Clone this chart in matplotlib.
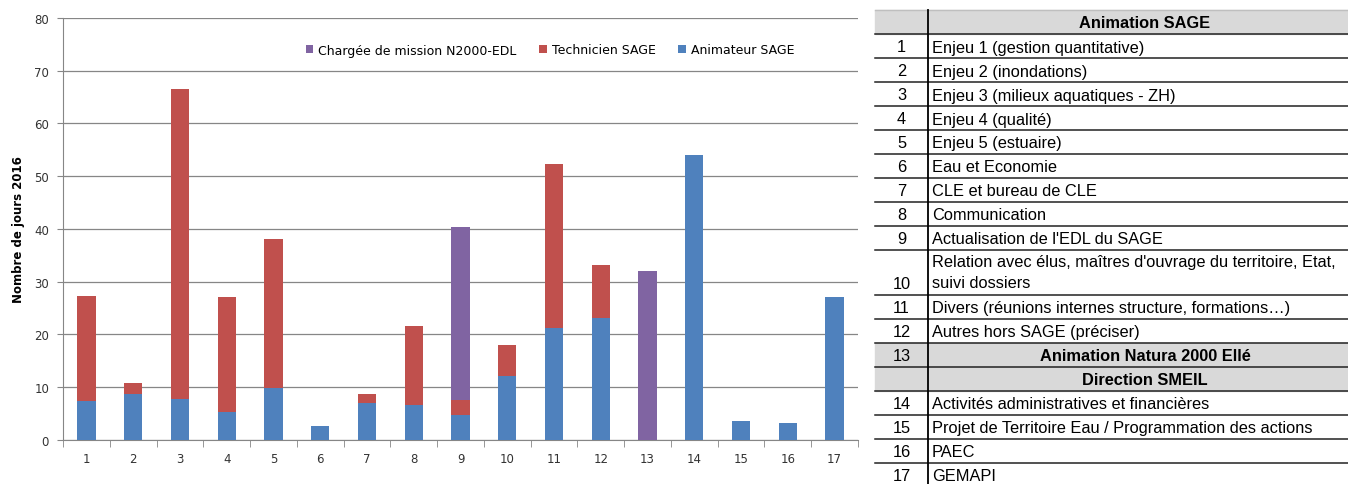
import matplotlib.pyplot as plt
import numpy as np

categories = [str(i) for i in range(1, 18)]
animateur = [7.3, 8.7, 7.7, 5.2, 9.9, 2.6, 6.9, 6.5, 4.7, 12.0, 21.2, 23.0, 0, 54.0, 3.6, 3.2, 27.1]
technicien = [20.0, 2.1, 58.9, 21.9, 28.1, 0, 1.8, 15.1, 2.8, 5.9, 31.1, 10.1, 0, 0, 0, 0, 0]
chargee = [0, 0, 0, 0, 0, 0, 0, 0, 32.9, 0, 0, 0, 32.0, 0, 0, 0, 0]

table_nums = ['', '1', '2', '3', '4', '5', '6', '7', '8', '9', '10', '11', '12', '13', '', '14', '15', '16', '17']
table_labels = ['Animation SAGE',
                'Enjeu 1 (gestion quantitative)',
                'Enjeu 2 (inondations)',
                'Enjeu 3 (milieux aquatiques - ZH)',
                'Enjeu 4 (qualité)',
                'Enjeu 5 (estuaire)',
                'Eau et Economie',
                'CLE et bureau de CLE',
                'Communication',
                "Actualisation de l'EDL du SAGE",
                "Relation avec élus, maîtres d'ouvrage du territoire, Etat,\nsuivi dossiers",
                'Divers (réunions internes structure, formations\u2026)',
                'Autres hors SAGE (préciser)',
                'Animation Natura 2000 Ellé',
                'Direction SMEIL',
                'Activités administratives et financières',
                'Projet de Territoire Eau / Programmation des actions',
                'PAEC',
                'GEMAPI']
table_headers = [0, 13, 14]

W, H = 1348, 485
fig = plt.figure(figsize=(W / 100, H / 100), dpi=100)

# ---- bar chart
ax = fig.add_axes([63 / W, 1 - 440.7 / H, (858 - 63) / W, (440.7 - 19) / H])
x = np.arange(1, 18)
anim = np.array(animateur)
tech = np.array(technicien)
ch = np.array(chargee)
bw = 0.39
ax.bar(x, anim, bw, color='#4F81BD', label='Animateur SAGE', zorder=3)
ax.bar(x, tech, bw, bottom=anim, color='#C0504D', label='Technicien SAGE', zorder=3)
ax.bar(x, ch, bw, bottom=anim + tech, color='#8064A2', label='Chargée de mission N2000-EDL', zorder=3)

ax.set_xlim(0.5, 17.5)
ax.set_ylim(0, 80)
ax.set_yticks(range(0, 81, 10))
ax.set_xticks(x)
ax.set_xticklabels(categories)
ax.set_xticks(np.arange(0.5, 18, 1), minor=True)
ax.tick_params(axis='x', which='major', length=0, pad=9, labelsize=8.5, colors='#333333')
ax.tick_params(axis='x', which='minor', length=5, color='#868686', direction='out')
ax.tick_params(axis='y', length=4, color='#868686', labelsize=8.5, colors='#333333', pad=6)
ax.grid(axis='y', color='#868686', linewidth=0.9, zorder=0)
for s in ['top', 'right']:
    ax.spines[s].set_visible(False)
for s in ['left', 'bottom']:
    ax.spines[s].set_color('#868686')
ax.set_ylabel('Nombre de jours 2016', fontsize=8.5, fontweight='bold', labelpad=7)

h, l = ax.get_legend_handles_labels()
leg = fig.legend(h[::-1], l[::-1], ncol=3, loc='center', bbox_to_anchor=(550 / W, 1 - 51 / H),
                 frameon=False, fontsize=9, handlelength=0.6, handleheight=0.6,
                 handletextpad=0.4, columnspacing=1.8)

# ---- table
tx = fig.add_axes([0, 0, 1, 1])
tx.set_xlim(0, W)
tx.set_ylim(H, 0)
tx.axis('off')
left, mid, right = 875, 928, 1362
row_h = 24
fs = 11.8
y = 11
tx.plot([left, W], [y, y], color='#BFBFBF', lw=1)
for i, (num, lab) in enumerate(zip(table_nums, table_labels)):
    nlines = lab.count('\n') + 1
    rh = row_h if nlines == 1 else 45
    if i in table_headers:
        tx.add_patch(plt.Rectangle((left, y), W - left, rh, color='#D9D9D9', zorder=0))
        tx.text((mid + right) / 2, y + rh / 2 + 1, lab, ha='center', va='center',
                fontsize=fs, fontweight='bold', family='Liberation Sans')
    elif nlines == 1:
        tx.text(mid + 4, y + rh / 2 + 1, lab, ha='left', va='center',
                fontsize=fs, family='Liberation Sans')
    else:
        tx.text(mid + 4, y + 22, lab, ha='left', va='center', linespacing=1.5,
                fontsize=fs, family='Liberation Sans')
    if nlines == 1:
        tx.text((left + mid) / 2, y + rh / 2 + 1, num, ha='center', va='center',
                fontsize=fs, family='Liberation Sans')
    else:
        tx.text((left + mid) / 2, y + rh - 11, num, ha='center', va='center',
                fontsize=fs, family='Liberation Sans')
    y += rh
    tx.plot([left, W], [y, y], color='#222222', lw=1.1)
tx.plot([mid, mid], [11, H], color='black', lw=1.3)

fig.savefig('out.png', dpi=100)
